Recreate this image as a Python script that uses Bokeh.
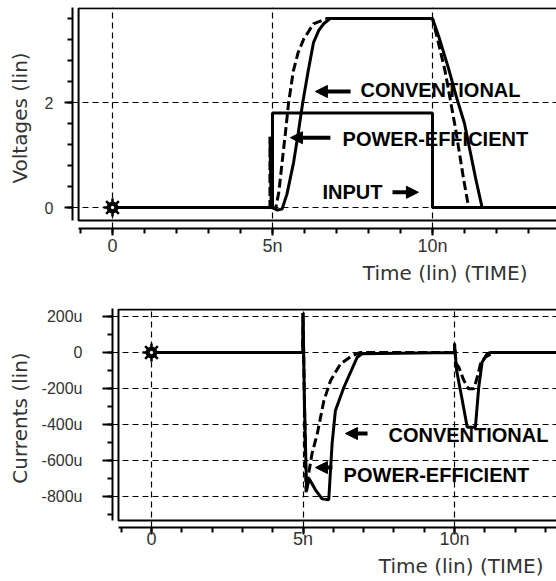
from bokeh.plotting import figure
from bokeh.models import Range1d, FixedTicker, BoxAnnotation, Label, Arrow, NormalHead, Title
from bokeh.embed import file_html
from bokeh.resources import INLINE

# ---------------- data (time in ns) ----------------
# Top panel: voltages (V)
input_t = [0, 5.0, 5.0, 10.0, 10.0, 14.0]
input_v = [0, 0, 1.8, 1.8, 0, 0]

conv_v_t = [0, 5.0, 5.15, 5.3, 5.45, 5.66, 5.8, 5.94, 6.1, 6.28, 6.45, 6.6, 6.8, 10.0,
            10.2, 10.5, 10.75, 11.0, 11.2, 11.35, 11.55, 14.0]
conv_v = [0, 0, -0.05, -0.03, 0.25, 0.86, 1.4, 1.98, 2.55, 3.14, 3.38, 3.5, 3.6, 3.6,
          3.25, 2.65, 2.1, 1.6, 1.0, 0.55, 0, 0]

pe_v_t = [0, 4.92, 4.92, 4.96, 5.1, 5.2, 5.3, 5.4, 5.5, 5.65, 5.8, 5.97, 6.28, 6.7, 10.0,
          10.2, 10.4, 10.72, 10.97, 11.13, 14.0]
pe_v = [0, 0, 1.35, 0.0, -0.02, 0.3, 0.86, 1.4, 1.98, 2.6, 2.95, 3.2, 3.5, 3.6, 3.6,
        3.1, 2.58, 1.5, 0.55, 0, 0]

# Bottom panel: currents (uA)
conv_i_t = [0, 4.99, 5.0, 5.05, 5.12, 5.2, 5.4, 5.63, 5.85, 5.96, 6.07, 6.35, 6.79, 6.95, 10.0,
            10.0, 10.07, 10.25, 10.42, 10.69, 10.8, 10.91, 11.08, 11.2, 14.0]
conv_i = [0, 0, 220, -300, -767, -700, -760, -813, -818, -507, -322, -193, -26, -7, 0,
          50, -100, -260, -415, -415, -193, -54, -6, 0, 0]

pe_i_t = [0, 4.99, 5.0, 5.05, 5.1, 5.2, 5.3, 5.47, 5.69, 5.91, 6.24, 6.62, 6.9, 10.0,
          10.0, 10.05, 10.14, 10.31, 10.47, 10.64, 10.75, 10.86, 11.02, 11.29, 14.0]
pe_i = [0, 0, 220, -300, -776, -660, -560, -452, -267, -156, -63, -17, 0, 0,
        50, -60, -81, -156, -202, -202, -137, -63, -26, 0, 0]

marker_t = [0]
marker_v = [0]
marker_i = [0]

# ticks
x_major = [0, 5, 10]
x_minor = list(range(-1, 14))
x_labels = {0: "0", 5: "5n", 10: "10n"}
v_major = [0, 2]
v_minor = [0, 0.4, 0.8, 1.2, 1.6, 2.0, 2.4, 2.8, 3.2, 3.6]
i_major = [-800, -600, -400, -200, 0, 200]
i_minor = list(range(-900, 201, 100))
i_labels = {200: "200u", 0: "0", -200: "-200u", -400: "-400u", -600: "-600u", -800: "-800u"}

TXT = "#333333"
LINE_W = 3
DASH = "9 4"


def style(p, xt, yt, ylabel, xlabels, ylabels, xbounds, ybounds, tick_out_y, ystandoff, ylabstand, xstandoff):
    p.xaxis.ticker = xt
    p.xgrid.ticker = xt
    p.yaxis.ticker = yt
    p.ygrid.ticker = yt
    for g in (p.xgrid, p.ygrid):
        g.grid_line_color = "black"
        g.grid_line_dash = "6 4"
        g.grid_line_width = 1.2
    for ax in (p.xaxis, p.yaxis):
        ax.axis_line_width = 2
        ax.major_tick_line_width = 2
        ax.minor_tick_line_width = 2
        ax.major_tick_in = 0
        ax.minor_tick_in = 0
        ax.minor_tick_out = 5
        ax.major_label_text_color = TXT
        ax.axis_label_text_color = TXT
        ax.axis_label_text_font = "DejaVu Sans"
        ax.axis_label_text_font_style = "normal"
        ax.axis_label_text_font_size = "20px"
    p.xaxis.major_tick_out = 7
    p.xaxis.major_label_standoff = xstandoff
    p.xaxis.major_label_text_font = "Liberation Sans"
    p.xaxis.major_label_text_font_size = "18px"
    p.xaxis.major_label_overrides = xlabels
    p.xaxis.bounds = xbounds
    p.yaxis.major_tick_out = tick_out_y
    p.yaxis.major_label_standoff = ystandoff
    p.yaxis.major_label_text_font = "Liberation Sans"
    p.yaxis.major_label_text_font_size = "16px"
    if ylabels:
        p.yaxis.major_label_overrides = ylabels
    p.yaxis.axis_label = ylabel
    p.yaxis.axis_label_standoff = ylabstand
    p.yaxis.bounds = ybounds


def time_title(p, offset, standoff):
    p.add_layout(Title(text="Time (lin) (TIME)", align="right", offset=offset, standoff=standoff,
                       text_font="DejaVu Sans", text_font_style="normal", text_font_size="20px",
                       text_color=TXT), "below")


lab_kw = dict(text_font="Liberation Sans", text_font_style="bold", text_font_size="20px",
              text_color="black", text_baseline="middle", text_align="left")


def arrow(p, xs, ys, xe, ye):
    p.add_layout(Arrow(end=NormalHead(size=12, fill_color="black", line_color="black", line_width=1),
                       x_start=xs, y_start=ys, x_end=xe, y_end=ye, line_color="black", line_width=4))


def star(p, xs, ys):
    p.scatter(xs, ys, marker="circle", size=11, color="black")
    p.scatter(xs, ys, marker="asterisk", size=18, line_color="black", line_width=2.5)
    p.scatter(xs, ys, marker="circle", size=2.5, color="white")


# ---------------- top panel ----------------
p1 = figure(width=556, height=292, x_range=Range1d(-1.25, 13.875), y_range=Range1d(-0.4, 3.81),
            output_backend="svg", toolbar_location=None, min_border_left=72, min_border_right=0,
            min_border_top=7, min_border_bottom=64, outline_line_color=None,
            background_fill_color="white", border_fill_color="white")
style(p1, FixedTicker(ticks=x_major, minor_ticks=x_minor), FixedTicker(ticks=v_major, minor_ticks=v_minor),
      "Voltages (lin)", x_labels, None, (-1.06, 13.875), (-0.2476, 3.81), 8, 11, 10, 0)
p1.add_layout(BoxAnnotation(left=-1.06, bottom=-0.2476, top=3.795, right=20, fill_color=None,
                            fill_alpha=0, line_color="black", line_width=2, line_alpha=1))
time_title(p1, 29, 1)

p1.line(conv_v_t, conv_v, line_color="black", line_width=LINE_W)
p1.line(pe_v_t, pe_v, line_color="black", line_width=LINE_W, line_dash=DASH)
p1.line(input_t, input_v, line_color="black", line_width=LINE_W)
star(p1, marker_t, marker_v)

p1.add_layout(Label(x=7.75, y=2.23, text="CONVENTIONAL", **lab_kw))
p1.add_layout(Label(x=7.19, y=1.30, text="POWER-EFFICIENT", **lab_kw))
p1.add_layout(Label(x=6.56, y=0.30, text="INPUT", **lab_kw))
arrow(p1, 7.44, 2.21, 6.34, 2.21)
arrow(p1, 6.81, 1.33, 5.56, 1.33)
arrow(p1, 8.75, 0.29, 9.56, 0.29)

# ---------------- bottom panel ----------------
p2 = figure(width=556, height=289, x_range=Range1d(-1.287, 13.366), y_range=Range1d(-972, 244.4),
            output_backend="svg", toolbar_location=None, min_border_left=112, min_border_right=0,
            min_border_top=16, min_border_bottom=54, outline_line_color=None,
            background_fill_color="white", border_fill_color="white")
style(p2, FixedTicker(ticks=x_major, minor_ticks=x_minor), FixedTicker(ticks=i_major, minor_ticks=i_minor),
      "Currents (lin)", x_labels, i_labels, (-1.09, 13.366), (-933, 244.4), 10, 20, 7, -6)
p2.add_layout(BoxAnnotation(left=-1.09, bottom=-933, top=239, right=20, fill_color=None,
                            fill_alpha=0, line_color="black", line_width=2, line_alpha=1))
time_title(p2, 13, 0)

p2.line(conv_i_t, conv_i, line_color="black", line_width=LINE_W)
p2.line(pe_i_t, pe_i, line_color="black", line_width=LINE_W, line_dash=DASH)
star(p2, marker_t, marker_i)

p2.add_layout(Label(x=7.82, y=-458, text="CONVENTIONAL", **lab_kw))
p2.add_layout(Label(x=6.34, y=-681, text="POWER-EFFICIENT", **lab_kw))
arrow(p2, 7.13, -450, 6.40, -450)
arrow(p2, 5.97, -639, 5.41, -639)

open("out.html", "w").write(file_html([p1, p2], INLINE))
